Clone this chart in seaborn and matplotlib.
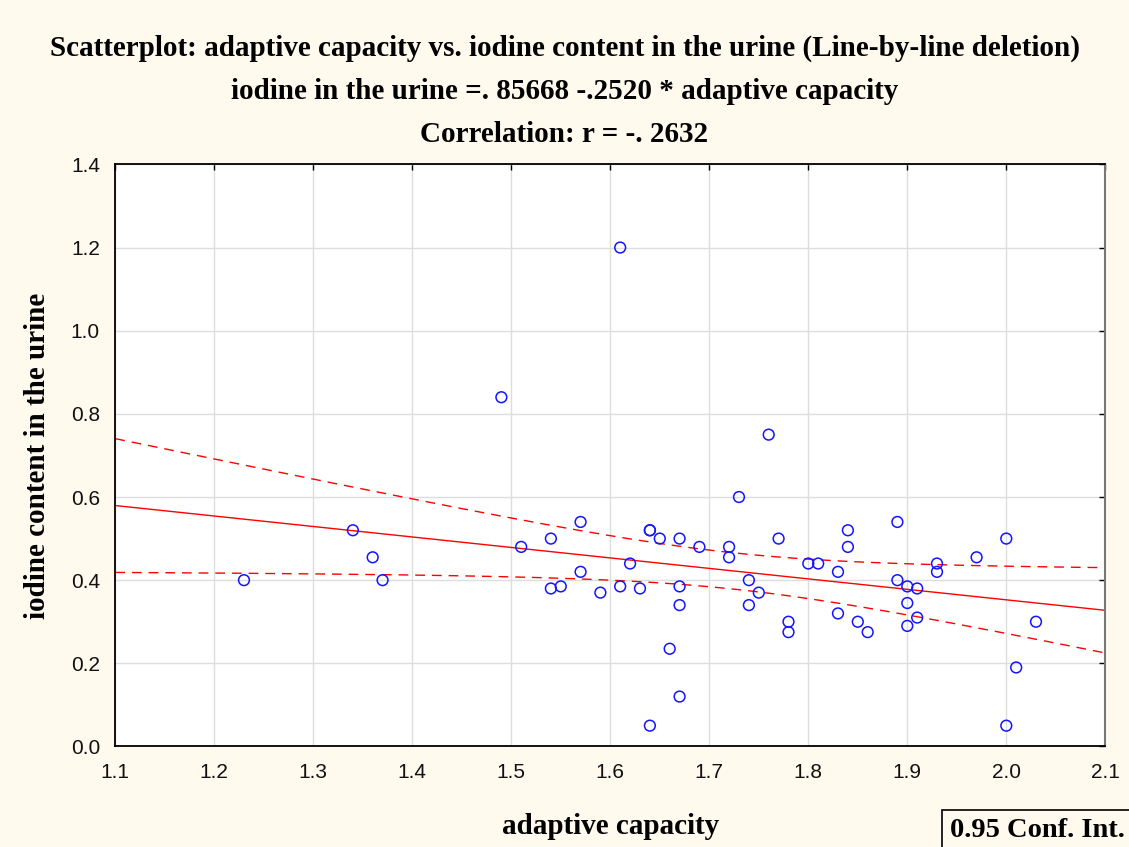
import numpy as np
import pandas as pd
import matplotlib
matplotlib.use("Agg")
import matplotlib.pyplot as plt
import seaborn as sns

# ---- data ----
adaptive_capacity = [1.23, 1.34, 1.36, 1.37, 1.49, 1.51, 1.54, 1.54, 1.55, 1.57,
                     1.57, 1.59, 1.61, 1.61, 1.62, 1.63, 1.64, 1.64, 1.64, 1.65,
                     1.66, 1.67, 1.67, 1.67, 1.67, 1.69, 1.72, 1.72, 1.73, 1.74,
                     1.74, 1.75, 1.76, 1.77, 1.78, 1.78, 1.80, 1.81, 1.83, 1.83,
                     1.84, 1.84, 1.85, 1.86, 1.89, 1.89, 1.90, 1.90, 1.90, 1.91,
                     1.91, 1.93, 1.93, 1.97, 2.00, 2.00, 2.01, 2.03]
iodine_urine = [0.40, 0.52, 0.455, 0.40, 0.84, 0.48, 0.50, 0.38, 0.385, 0.54,
                0.42, 0.37, 0.385, 1.20, 0.44, 0.38, 0.52, 0.52, 0.05, 0.50,
                0.235, 0.50, 0.385, 0.34, 0.12, 0.48, 0.48, 0.455, 0.60, 0.40,
                0.34, 0.37, 0.75, 0.50, 0.30, 0.275, 0.44, 0.44, 0.42, 0.32,
                0.52, 0.48, 0.30, 0.275, 0.54, 0.40, 0.385, 0.345, 0.29, 0.38,
                0.31, 0.44, 0.42, 0.455, 0.50, 0.05, 0.19, 0.30]
intercept = 0.85668
slope = -0.2520
x_ticks = [1.1, 1.2, 1.3, 1.4, 1.5, 1.6, 1.7, 1.8, 1.9, 2.0, 2.1]
y_ticks = [0.0, 0.2, 0.4, 0.6, 0.8, 1.0, 1.2, 1.4]
title_lines = ["Scatterplot: adaptive capacity vs. iodine content in the urine (Line-by-line deletion)",
               "iodine in the urine =. 85668 -.2520 * adaptive capacity",
               "Correlation: r = -. 2632"]

df = pd.DataFrame({"x": adaptive_capacity, "y": iodine_urine})

# regression line and 95% confidence band
xg = np.linspace(1.1, 2.1, 200)
xa = np.asarray(adaptive_capacity)
ya = np.asarray(iodine_urine)
n = len(xa)
b1, b0 = np.polyfit(xa, ya, 1)
resid = ya - (b0 + b1 * xa)
s = np.sqrt(np.sum(resid ** 2) / (n - 2))
sxx = np.sum((xa - xa.mean()) ** 2)
tcrit = 2.003
fit = intercept + slope * xg
se = s * np.sqrt(1.0 / n + (xg - xa.mean()) ** 2 / sxx)
band = pd.DataFrame({"x": xg, "fit": fit, "lo": fit - tcrit * se, "hi": fit + tcrit * se})

sns.set_style("white")
bg = "#FFF9EE"
fig = plt.figure(figsize=(11.29, 8.47), dpi=100, facecolor=bg)
ax = fig.add_axes([0.1021, 0.1187, 0.8769, 0.6872])
ax.set_facecolor("white")

sns.lineplot(data=band, x="x", y="fit", ax=ax, color="red", lw=1.0)
sns.lineplot(data=band, x="x", y="lo", ax=ax, color="red", lw=1.0, linestyle="--")
sns.lineplot(data=band, x="x", y="hi", ax=ax, color="red", lw=1.0, linestyle="--")
for ln in ax.lines[1:]:
    ln.set_dashes((7, 5))
sns.scatterplot(data=df, x="x", y="y", ax=ax, marker="o", s=60,
                facecolor="none", edgecolor="#1414ff", linewidth=1.1, zorder=5)

ax.set_xlim(1.1, 2.1)
ax.set_ylim(0.0, 1.4)
ax.set_xticks(x_ticks)
ax.set_yticks(y_ticks)
ax.set_xticklabels([f"{v:.1f}" for v in x_ticks])
ax.set_yticklabels([f"{v:.1f}" for v in y_ticks])
ax.grid(True, color="#dddddd", lw=1.0)
ax.tick_params(axis="both", direction="in", length=4, width=1, labelsize=15,
               top=True, right=True, colors="black")
ax.tick_params(axis="x", pad=12)
ax.tick_params(axis="y", pad=11)
for lab in ax.get_xticklabels() + ax.get_yticklabels():
    lab.set_fontfamily("Liberation Sans")
    lab.set_color("#111111")
for side in ["left", "bottom", "top"]:
    ax.spines[side].set_color("black")
    ax.spines[side].set_linewidth(1.3)
ax.spines["right"].set_color("#777777")
ax.spines["right"].set_linewidth(1.5)

serif = "Liberation Serif"
ax.set_xlabel("adaptive capacity", fontfamily=serif, fontweight="bold", fontsize=21,
              labelpad=22, color="black")
ax.set_ylabel("iodine content in the urine", fontfamily=serif, fontweight="bold", fontsize=21,
              labelpad=14, color="black")

ys = [0.9435, 0.8925, 0.8415]
for t, yy in zip(title_lines, ys):
    fig.text(0.5, yy, t, ha="center", va="center", fontfamily=serif,
             fontweight="bold", fontsize=21, color="black")

fig.text(0.9965, 0.019, "0.95 Conf. Int.", ha="right", va="center", fontfamily=serif,
         fontweight="bold", fontsize=20.5, color="black",
         bbox=dict(boxstyle="square,pad=0.3", facecolor=bg, edgecolor="black", lw=1.2))

fig.savefig("out.png", dpi=100, facecolor=bg)
